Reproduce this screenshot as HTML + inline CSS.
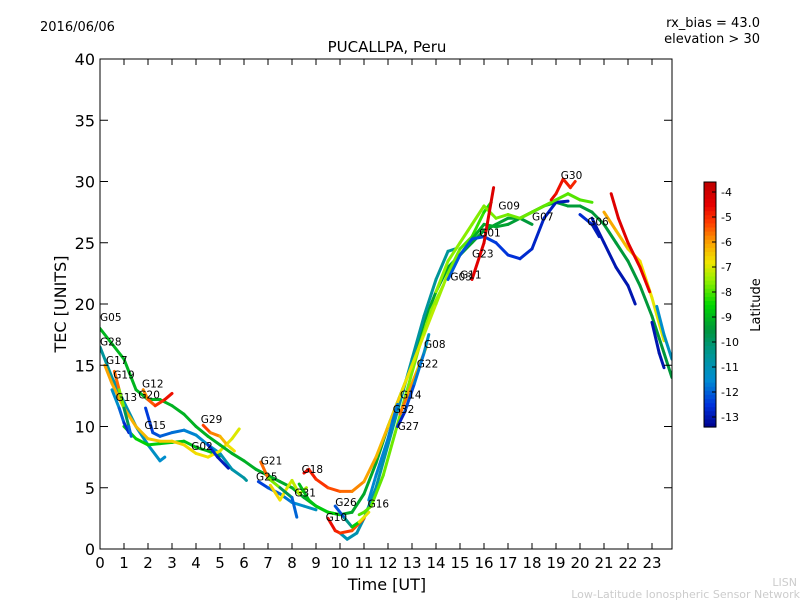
<!DOCTYPE html>
<html><head><meta charset="utf-8"><style>
body{margin:0;background:#fff;font-family:"Liberation Sans","DejaVu Sans",sans-serif}
svg text{font-family:"DejaVu Sans","Liberation Sans",sans-serif}
</style></head><body>
<svg id="c" width="800" height="600" viewBox="0 0 800 600">
<rect width="800" height="600" fill="#fff"/>
<text x="40" y="31" font-size="13">2016/06/06</text>
<text x="760" y="27" font-size="13" text-anchor="end">rx_bias = 43.0</text>
<text x="760" y="43" font-size="13" text-anchor="end">elevation &gt; 30</text>
<text x="387" y="52" font-size="15" text-anchor="middle">PUCALLPA, Peru</text>
<text x="387" y="590" font-size="16" text-anchor="middle">Time [UT]</text>
<text transform="translate(66,304) rotate(-90)" font-size="16" text-anchor="middle">TEC [UNITS]</text>
<text x="797" y="586" font-size="11" fill="#ccc" text-anchor="end">LISN</text>
<text x="800" y="598" font-size="11" fill="#ccc" text-anchor="end">Low-Latitude Ionospheric Sensor Network</text>
<g id="marks"></g>
<g id="axes"></g>
<text transform="translate(760,305) rotate(-90)" font-size="13" text-anchor="middle">Latitude</text>
</svg>
<script>
const xTicks=[0,1,2,3,4,5,6,7,8,9,10,11,12,13,14,15,16,17,18,19,20,21,22,23];
const yTicks=[0,5,10,15,20,25,30,35,40];
const cbTicks=[-4,-5,-6,-7,-8,-9,-10,-11,-12,-13];
// tracks: times, tec values, start/end latitude
const tG05t=[0,1,1.5,2,2.5,3,3.5,4,4.5,5,5.5,6,6.5,7,7.5,8,8.5,9,9.5,10,10.5,11,11.5,12,12.5,13,13.5,14,14.5,15,15.5,16,16.5,17,17.5,18,18.5,19,19.5,20,20.5,21,21.5,22,22.5,23,23.5,23.83];
const tG05v=[18,15.5,13,12.2,12.2,11.7,11,10,9.2,8.5,7.8,7.2,6.5,6,5.5,5,4.2,3.5,3,2.8,3,4.5,7,10,12.5,15,18.5,21,23,24,25,26,26.5,27,27,27.5,28,28.3,28,28,27.5,26.5,25,23.5,21.5,19,16,14];
const tG28t=[0,0.5,1,1.5,2,2.5,2.7];const tG28v=[16.5,14,12,10,8.5,7.2,7.5];
const tG17t=[0.2,0.5,1,1.5,2,2.5,3,3.5,4,4.5,5,5.5,5.8];const tG17v=[15,13.5,11.5,10,9,8.8,8.8,8.5,7.8,7.5,8,9,9.8];
const tG19t=[0.6,0.8,1,1.2,1.3];const tG19v=[14.5,13,11.5,10,9.2];
const tG13t=[0.5,0.8,1,1.2];const tG13v=[13,11.5,10.3,9.5];
const tG12t=[1.8,2,2.3,2.7,3];const tG12v=[13,12.2,11.7,12.2,12.7];
const tG15t=[1.9,2.2,2.5,3,3.5,4,4.5,5,5.5,6,6.1];const tG15v=[11.5,9.5,9.2,9.5,9.7,9.3,8.5,7.8,6.5,5.8,5.6];
const tGLt=[1,1.5,2,2.5,3,3.5,4,4.5,5];const tGLv=[10,9,8.5,8.6,8.7,8.8,8.3,8,7.6];
const tG02t=[4.5,4.9,5.35];const tG02v=[8.5,7.5,6.6];
const tG29t=[4.3,4.6,5,5.3,5.6];const tG29v=[10.1,9.5,9.2,8.5,8];
const tG21t=[6.7,7,7.5,8,8.2];const tG21v=[7.1,5.8,5,4.2,2.6];
const tG25t=[6.6,7,7.5,8,8.5,9];const tG25v=[5.5,5,4.5,3.8,3.5,3.2];
const tGYt=[7.1,7.5,7.8,8,8.3,8.6];const tGYv=[5.2,4,5,5.6,4.5,5];
const tG18t=[8.5,8.7,9,9.5,10,10.5,11,11.5,12,12.5,13,13.5,14,14.5,15,15.5,16,16.3];const tG18v=[6.2,6.5,5.7,5,4.7,4.7,5.5,7.5,10,12.5,15,17.5,20,22.5,24.5,25.5,27.5,28.3];
const tG31t=[8.3,8.7,9,9.5,10];const tG31v=[5.3,4,3.5,3,2.8];
const tG10t=[9.5,9.8,10,10.5,11];const tG10v=[2.5,1.5,1.3,1.5,2.5];
const tG26t=[9.8,10.2,10.5,10.8,11.2];const tG26v=[3.5,2.5,1.8,2.2,3];
const tGTt=[10,10.3,10.7,11,11.5,12,12.5,13,13.5,14,14.5,14.8];const tGTv=[1.3,0.8,1.3,2.5,5,8.5,12,15.5,19,22,24.3,24.5];
const tG16t=[10.8,11,11.3,11.8,12.3,12.8,13.3,13.8,14.3];const tG16v=[2.8,3,3.5,6,9.5,13,16.5,19.5,21.5];
const tG32t=[11.2,11.5,12,12.2,12.4];const tG32v=[4,6,9,10.5,11.8];
const tG14t=[12.5,12.8,13.2,13.6];const tG14v=[11,12.5,14.5,16.5];
const tG27t=[12.4,12.7,13.1,13.5,13.7];const tG27v=[10,11.2,13.5,16,17.5];
const tG01t=[14.5,15,15.5,16,16.5,17,17.5,18,18.5,19,19.5];const tG01v=[22,24,25.3,25.5,25,24,23.7,24.5,27,28.3,28.4];
const tG09t=[14,14.5,15,15.5,16,16.5,17,17.5,18,18.5,19,19.5,20,20.5];const tG09v=[21,23.5,25,26.5,28,27,27.3,27,27.5,28,28.5,29,28.5,28.3];
const tG07t=[15,15.5,16,16.5,17,17.5,18];const tG07v=[24,25.3,26.5,26.3,26.5,27,26.5];
const tG23t=[15.5,16,16.4];const tG23v=[22,25,29.5];
const tG30t=[18.8,19,19.3,19.6,19.8];const tG30v=[28.5,29,30.2,29.5,30];
const tG06t=[20,20.5,20.8];const tG06v=[27.3,26.5,25.5];
const tGRt=[21.3,21.6,22,22.5,22.9];const tGRv=[29,27,25,23,21];
const tGOt=[21,21.5,22,22.5,23,23.5];const tGOv=[27.5,26,24.5,23.5,20.5,17];
const tGBt=[20.5,21,21.5,22,22.3];const tGBv=[27,25,23,21.5,20];
const tGCt=[23.2,23.5,23.83];const tGCv=[19.8,17.5,15.5];
const tGDt=[23,23.3,23.5];const tGDv=[18.5,16,14.8];
const tracks=[
[tG28t,tG28v,-10.5,-11.5],[tGLt,tGLv,-8.5,-9],[tG15t,tG15v,-12.5,-10.5],[tG17t,tG17v,-6,-7],
[tG05t,tG05v,-9,-9.5],[tG13t,tG13v,-11,-13],[tG19t,tG19v,-4.5,-13],[tG12t,tG12v,-6,-4.5],
[tG02t,tG02v,-12.5,-13],[tG29t,tG29v,-5,-7],[tG25t,tG25v,-12.5,-11],[tGYt,tGYv,-6.5,-7.5],
[tG21t,tG21v,-4.5,-13],[tG31t,tG31v,-9,-8.5],[tGTt,tGTv,-11,-10.5],[tG16t,tG16v,-8,-7.5],
[tG18t,tG18v,-4.5,-8.5],[tG10t,tG10v,-4.5,-5.5],[tG26t,tG26v,-13,-6],[tG32t,tG32v,-11.5,-11.8],
[tG14t,tG14v,-5.5,-6.5],[tG27t,tG27v,-13,-11],[tG07t,tG07v,-9,-9.5],[tG01t,tG01v,-12,-13],
[tG09t,tG09v,-7.5,-8],[tG23t,tG23v,-4.5,-4.2],[tG30t,tG30v,-4.5,-5],[tG06t,tG06v,-12.5,-13],
[tGBt,tGBv,-13,-13],[tGOt,tGOv,-6,-7],[tGRt,tGRv,-4.3,-4.5],[tGCt,tGCv,-11.5,-11],[tGDt,tGDv,-13,-13]];
const labels=[["G05",0,18.6],["G28",0,16.6],["G17",0.25,15.1],["G19",0.55,13.9],["G13",0.65,12.1],["G12",1.75,13.2],["G20",1.6,12.3],["G15",1.85,9.8],["G29",4.2,10.3],["G02",3.8,8.1],["G21",6.7,6.9],["G25",6.5,5.6],["G18",8.4,6.2],["G31",8.1,4.3],["G26",9.8,3.5],["G10",9.4,2.3],["G16",11.15,3.4],["G32",12.2,11.1],["G14",12.5,12.3],["G27",12.4,9.7],["G22",13.2,14.8],["G08",13.5,16.4],["G03",14.6,21.9],["G11",15,22.1],["G23",15.5,23.8],["G01",15.8,25.5],["G09",16.6,27.7],["G07",18,26.8],["G30",19.2,30.2],["G06",20.3,26.4]];
const X=t=>100+24*t, Y=v=>549-12.25*v;
const LMIN=-13.4,LMAX=-3.6;
const stops=[[-13.4,[0,0,140]],[-12.5,[0,50,220]],[-11.5,[0,140,210]],[-10.5,[0,150,150]],[-9.5,[0,150,60]],[-8.5,[0,215,0]],[-7.5,[150,240,0]],[-6.8,[240,230,0]],[-6,[250,160,0]],[-5.2,[255,60,0]],[-4.5,[230,0,0]],[-3.6,[190,0,0]]];
function jet(l){l=Math.max(LMIN,Math.min(LMAX,l));
for(let i=0;i<stops.length-1;i++){const [a,ca]=stops[i],[b,cb]=stops[i+1];
if(l>=a&&l<=b){const f=(l-a)/(b-a);return `rgb(${ca.map((c,k)=>Math.round(c+(cb[k]-c)*f)).join(',')})`;}}
return 'rgb(190,0,0)';}
const NS="http://www.w3.org/2000/svg";
const marks=document.getElementById('marks'),axes=document.getElementById('axes');
function mk(tag,a,p){const e=document.createElementNS(NS,tag);for(const k in a)e.setAttribute(k,a[k]);p.appendChild(e);return e;}
const clip=mk('clipPath',{id:'pc'},marks);mk('rect',{x:100,y:59,width:572,height:490},clip);
const g=mk('g',{'clip-path':'url(#pc)'},marks);
tracks.forEach((tr,i)=>{const [ts,vs,l0,l1]=tr;const n=ts.length;
for(let j=0;j<n-1;j++){const l=l0+(l1-l0)*(j+0.5)/(n-1);
const s=mk('line',{x1:X(ts[j]),y1:Y(vs[j]),x2:X(ts[j+1]),y2:Y(vs[j+1]),stroke:jet(l),'stroke-width':3,'stroke-linecap':'round'},g);

}});
labels.forEach(L=>{const t=mk('text',{x:X(L[1]),y:Y(L[2]),'font-size':10.5},marks);t.textContent=L[0];

});
const fr=mk('rect',{x:100,y:59,width:572,height:490,fill:'none',stroke:'#000','stroke-width':1},axes);


xTicks.forEach(t=>{const x=X(t);mk('line',{x1:x,y1:549,x2:x,y2:543,stroke:'#000'},axes);mk('line',{x1:x,y1:59,x2:x,y2:65,stroke:'#000'},axes);
const tx=mk('text',{x:x,y:568,'font-size':15,'text-anchor':'middle'},axes);tx.textContent=t;

});
yTicks.forEach(v=>{const y=Y(v);mk('line',{x1:100,y1:y,x2:108,y2:y,stroke:'#000'},axes);mk('line',{x1:672,y1:y,x2:664,y2:y,stroke:'#000'},axes);
const tx=mk('text',{x:95,y:y+6,'font-size':16,'text-anchor':'end'},axes);tx.textContent=v;

});
// colorbar
const CT=182,CB=427,CX=704,CW=12;const CY=l=>CB-(l-LMIN)/(LMAX-LMIN)*(CB-CT);
const cb=mk('g',{},axes);


for(let k=0;k<60;k++){const l=LMIN+(LMAX-LMIN)*k/60;const y2=CY(l),y1=CY(l+(LMAX-LMIN)/60);
mk('rect',{x:CX,y:y1,width:CW,height:y2-y1+0.6,fill:jet(l+(LMAX-LMIN)/120)},cb);}
mk('rect',{x:CX,y:CT,width:CW,height:CB-CT,fill:'none',stroke:'#000'},cb);
cbTicks.forEach(l=>{const y=CY(l);mk('line',{x1:CX+CW-4,y1:y,x2:CX+CW,y2:y,stroke:'#000'},cb);
const tx=mk('text',{x:721,y:y+4,'font-size':11},cb);tx.textContent=l;

});
</script>
</body></html>
